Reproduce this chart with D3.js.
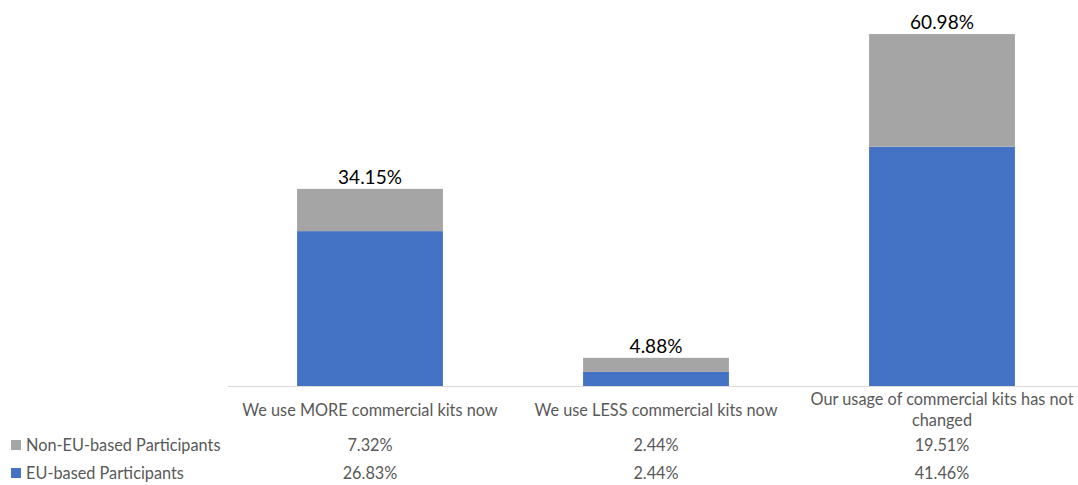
<!DOCTYPE html>
<html>
<head>
<meta charset="utf-8">
<script src="https://cdn.jsdelivr.net/npm/d3@7"></script>
<style>
  body { margin: 0; background: #fff; }
  svg { font-family: Lato, "Open Sans", sans-serif; }
</style>
</head>
<body>
<svg width="1078" height="485"></svg>
<script>
const categories = [
  ["We use MORE commercial kits now"],
  ["We use LESS commercial kits now"],
  ["Our usage of commercial kits has not", "changed"]
];
const euValues = [26.83, 2.44, 41.46];
const nonEuValues = [7.32, 2.44, 19.51];
const totals = ["34.15%", "4.88%", "60.98%"];
const seriesNames = ["Non-EU-based Participants", "EU-based Participants"];
const colors = { eu: "#4472C4", noneu: "#A5A5A5" };

const svg = d3.select("svg");
const baseY = 386;

// band per category, bar takes roughly half
const x = d3.scaleBand()
    .domain(d3.range(categories.length))
    .range([227, 227 + 286 * 3])
    .paddingInner(0.49)
    .paddingOuter(0.245);

const y = d3.scaleLinear().domain([0, 60.98]).range([baseY, 34]);

const rows = categories.map((c, i) => ({ i, eu: euValues[i], noneu: nonEuValues[i] }));
const stack = d3.stack().keys(["eu", "noneu"])(rows);

svg.append("g").selectAll("g")
  .data(stack)
  .join("g")
    .attr("fill", d => colors[d.key])
  .selectAll("rect")
  .data(d => d)
  .join("rect")
    .attr("x", d => x(d.data.i))
    .attr("width", x.bandwidth())
    .attr("y", d => y(d[1]))
    .attr("height", d => y(d[0]) - y(d[1]));

// axis line
svg.append("line")
    .attr("x1", 228).attr("x2", 1078)
    .attr("y1", baseY + 0.5).attr("y2", baseY + 0.5)
    .attr("stroke", "#D9D9D9");

// totals
svg.append("g").selectAll("text")
  .data(rows)
  .join("text")
    .attr("x", d => x(d.i) + x.bandwidth() / 2)
    .attr("y", d => y(d.eu + d.noneu) - 5)
    .attr("text-anchor", "middle")
    .attr("font-size", 19)
    .attr("fill", "#000")
    .text((d, i) => totals[i]);

// category labels
const cx = i => x(i) + x.bandwidth() / 2;
const catG = svg.append("g").attr("fill", "#595959").attr("font-size", 16.3);
categories.forEach((lines, i) => {
  const t = catG.append("text")
      .attr("text-anchor", "middle")
      .attr("x", cx(i))
      .attr("y", lines.length > 1 ? 405 : 416);
  lines.forEach((l, k) => t.append("tspan").attr("x", cx(i)).attr("dy", k ? 21 : 0).text(l));
});

// data table rows
const tableRows = [
  { name: seriesNames[0], color: colors.noneu, vals: nonEuValues, y: 451 },
  { name: seriesNames[1], color: colors.eu, vals: euValues, y: 479 }
];
const tg = svg.append("g").attr("font-size", 16.3).attr("fill", "#595959");
tableRows.forEach(r => {
  tg.append("rect").attr("x", 11).attr("y", r.y - 11).attr("width", 10).attr("height", 10).attr("fill", r.color);
  tg.append("text").attr("x", 26).attr("y", r.y).text(r.name);
  r.vals.forEach((v, i) => {
    tg.append("text").attr("x", cx(i)).attr("y", r.y).attr("text-anchor", "middle").text(v.toFixed(2) + "%");
  });
});
</script>
</body>
</html>
